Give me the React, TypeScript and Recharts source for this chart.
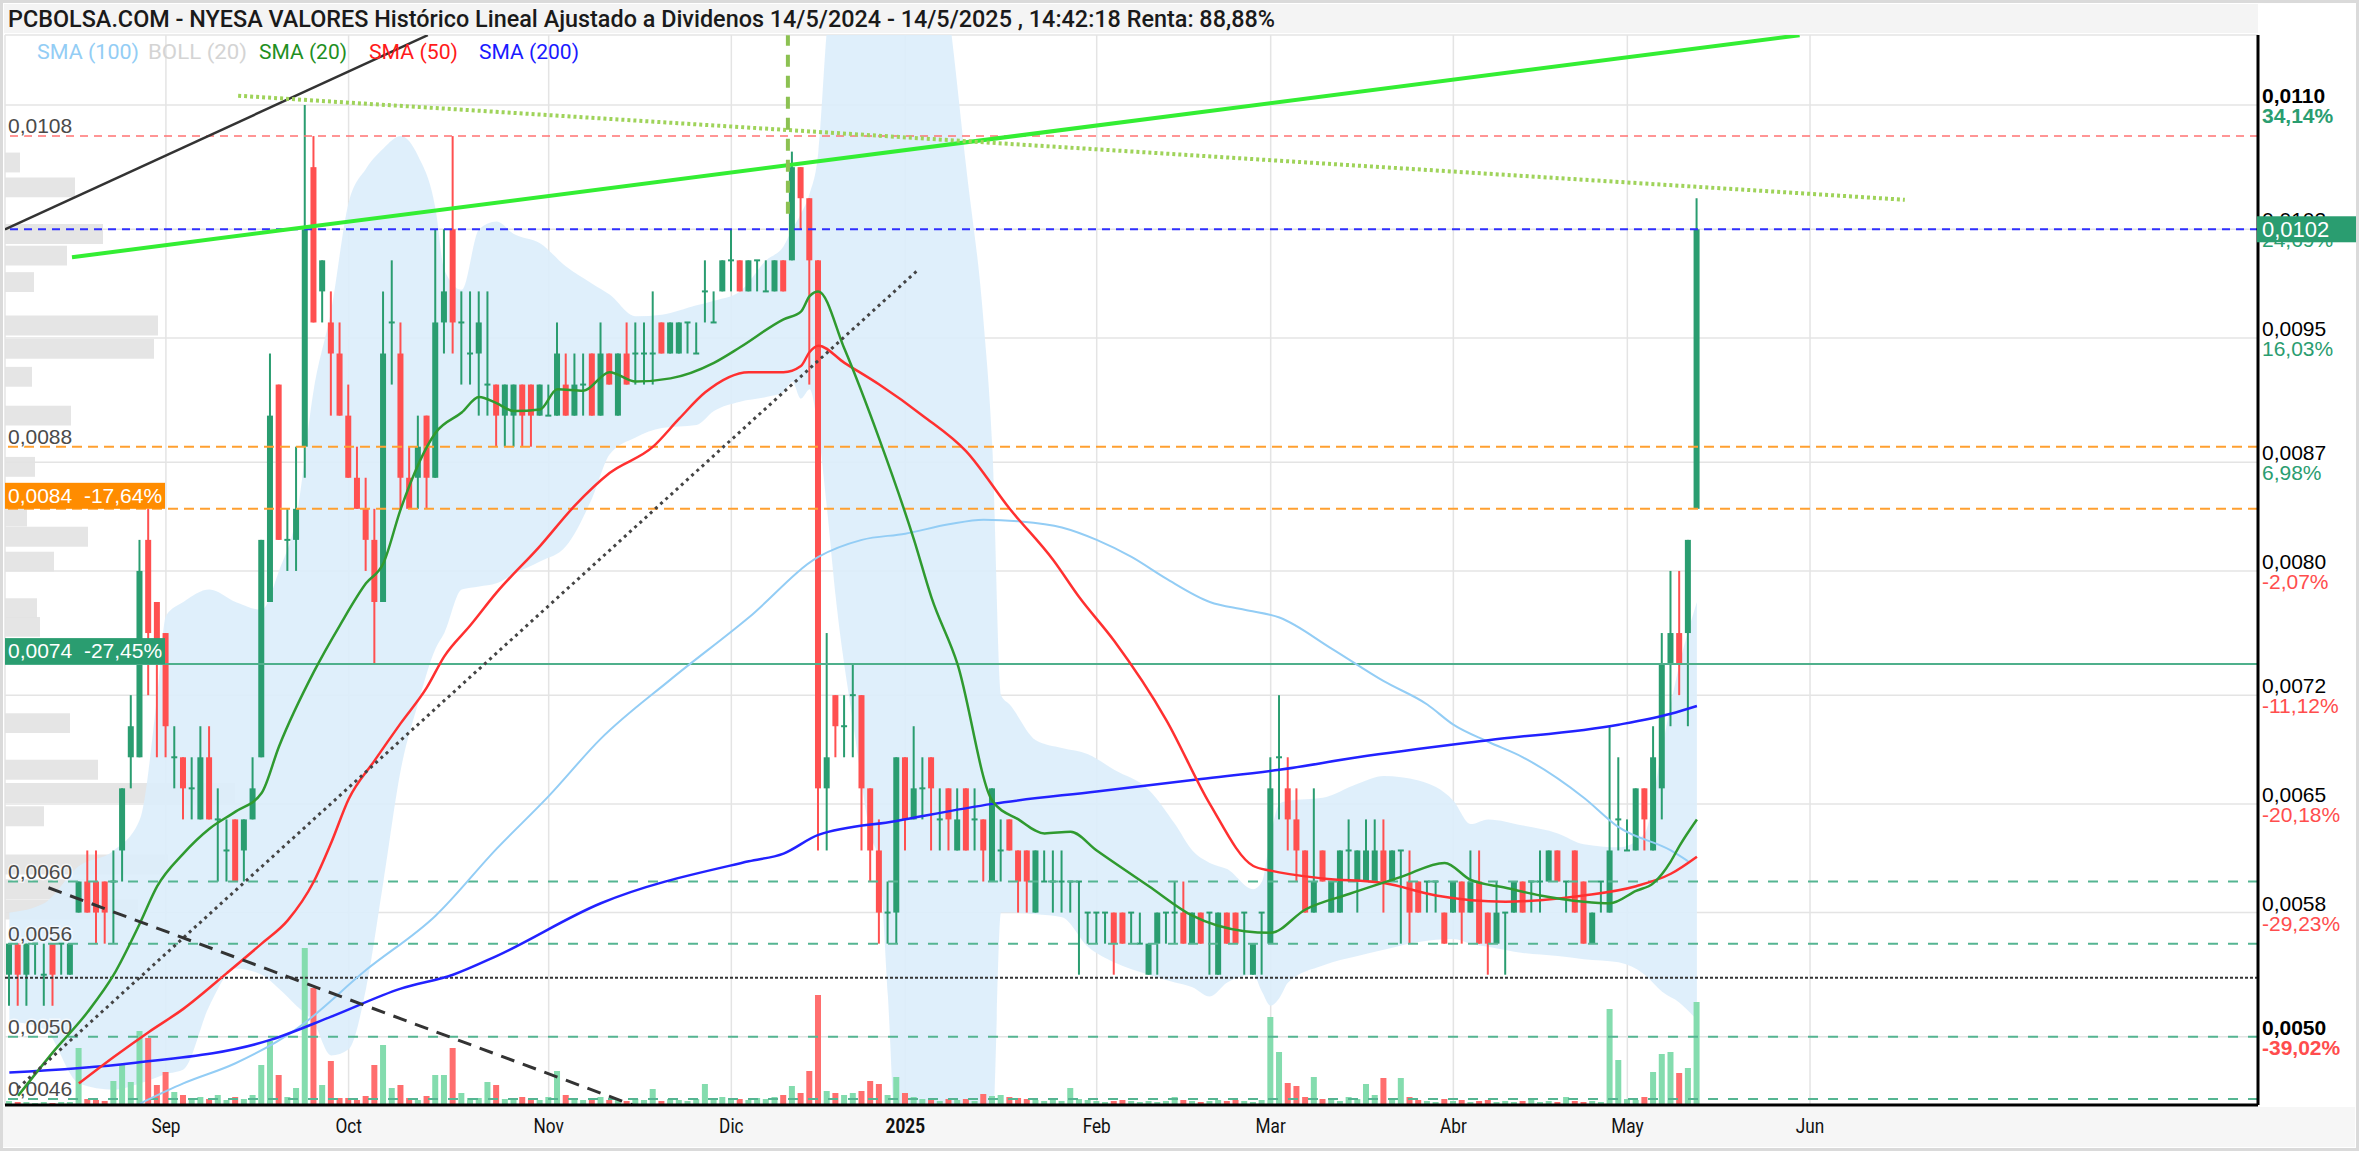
import React from 'react';
import { ComposedChart, Bar, Line, Area, XAxis, YAxis, CartesianGrid, ReferenceLine, ReferenceArea } from 'recharts';

// ---- price candles [open, high, low, close], one per trading day ----
const candles: number[][] = [
  [0.0054,0.0056,0.0052,0.0056],[0.0056,0.0056,0.0052,0.0054],[0.0054,0.0056,0.0052,0.0056],[0.0056,0.0056,0.0054,0.0056],
  [0.0054,0.0056,0.0052,0.0054],[0.0056,0.0056,0.0052,0.0054],[0.0056,0.0056,0.0054,0.0056],[0.0054,0.0056,0.0054,0.0056],
  [0.0058,0.0060,0.0058,0.0060],[0.0060,0.0062,0.0058,0.0058],[0.0060,0.0062,0.0056,0.0058],[0.0060,0.0060,0.0056,0.0058],
  [0.0060,0.0062,0.0056,0.0060],[0.0062,0.0066,0.0060,0.0066],[0.0068,0.0072,0.0066,0.0070],[0.0068,0.0082,0.0068,0.0080],
  [0.0082,0.0084,0.0072,0.0076],[0.0078,0.0078,0.0068,0.0074],[0.0076,0.0076,0.0068,0.0070],[0.0068,0.0070,0.0066,0.0068],
  [0.0068,0.0068,0.0064,0.0066],[0.0066,0.0068,0.0064,0.0066],[0.0064,0.0070,0.0064,0.0068],[0.0068,0.0070,0.0064,0.0064],
  [0.0064,0.0066,0.0060,0.0064],[0.0062,0.0064,0.0060,0.0062],[0.0064,0.0064,0.0060,0.0060],[0.0062,0.0064,0.0060,0.0064],
  [0.0064,0.0068,0.0064,0.0066],[0.0068,0.0082,0.0068,0.0082],[0.0078,0.0094,0.0078,0.0090],[0.0092,0.0092,0.0082,0.0082],
  [0.0082,0.0084,0.0080,0.0082],[0.0082,0.0088,0.0080,0.0084],[0.0088,0.0110,0.0086,0.0102],[0.0106,0.0108,0.0096,0.0096],
  [0.0098,0.0100,0.0096,0.0100],[0.0096,0.0098,0.0090,0.0094],[0.0094,0.0096,0.0090,0.0090],[0.0090,0.0092,0.0086,0.0086],
  [0.0086,0.0088,0.0084,0.0084],[0.0084,0.0086,0.0080,0.0082],[0.0082,0.0084,0.0074,0.0078],[0.0078,0.0098,0.0078,0.0094],
  [0.0096,0.0100,0.0092,0.0096],[0.0094,0.0096,0.0084,0.0086],[0.0086,0.0088,0.0084,0.0084],[0.0086,0.0090,0.0084,0.0088],
  [0.0090,0.0090,0.0084,0.0086],[0.0086,0.0102,0.0086,0.0096],[0.0096,0.0102,0.0094,0.0098],[0.0102,0.0108,0.0094,0.0096],
  [0.0096,0.0098,0.0092,0.0096],[0.0094,0.0098,0.0092,0.0094],[0.0094,0.0098,0.0090,0.0096],[0.0092,0.0098,0.0090,0.0092],
  [0.0092,0.0092,0.0088,0.0090],[0.0090,0.0092,0.0088,0.0092],[0.0090,0.0092,0.0088,0.0092],[0.0092,0.0092,0.0088,0.0090],
  [0.0092,0.0092,0.0088,0.0090],[0.0090,0.0092,0.0090,0.0092],[0.0090,0.0092,0.0090,0.0090],[0.0090,0.0096,0.0090,0.0094],
  [0.0092,0.0094,0.0090,0.0090],[0.0090,0.0094,0.0090,0.0092],[0.0092,0.0094,0.0090,0.0092],[0.0094,0.0094,0.0090,0.0090],
  [0.0090,0.0096,0.0090,0.0094],[0.0094,0.0094,0.0092,0.0092],[0.0090,0.0094,0.0090,0.0094],[0.0094,0.0096,0.0092,0.0092],
  [0.0094,0.0096,0.0092,0.0094],[0.0094,0.0096,0.0092,0.0094],[0.0094,0.0098,0.0092,0.0094],[0.0096,0.0096,0.0094,0.0094],
  [0.0094,0.0096,0.0094,0.0096],[0.0094,0.0096,0.0094,0.0096],[0.0096,0.0096,0.0094,0.0096],[0.0094,0.0096,0.0094,0.0094],
  [0.0098,0.0100,0.0096,0.0098],[0.0096,0.0098,0.0096,0.0096],[0.0098,0.0100,0.0098,0.0100],[0.0100,0.0102,0.0098,0.0100],
  [0.0100,0.0100,0.0098,0.0098],[0.0098,0.0100,0.0098,0.0100],[0.0100,0.0100,0.0098,0.0100],[0.0098,0.0100,0.0098,0.0098],
  [0.0098,0.0100,0.0098,0.0100],[0.0100,0.0100,0.0098,0.0098],[0.0100,0.0107,0.0100,0.0106],[0.0106,0.0106,0.0102,0.0104],
  [0.0104,0.0104,0.0092,0.0100],[0.0100,0.0100,0.0062,0.0066],
  [0.0066,0.0076,0.0062,0.0068],[0.0072,0.0072,0.0068,0.0070],[0.0070,0.0072,0.0068,0.0070],[0.0072,0.0074,0.0068,0.0072],
  [0.0072,0.0072,0.0062,0.0066],[0.0066,0.0066,0.0060,0.0062],[0.0062,0.0064,0.0056,0.0058],[0.0058,0.0060,0.0056,0.0058],
  [0.0058,0.0068,0.0056,0.0068],[0.0068,0.0068,0.0062,0.0064],[0.0064,0.0070,0.0064,0.0066],[0.0066,0.0068,0.0064,0.0066],
  [0.0068,0.0068,0.0062,0.0066],[0.0064,0.0066,0.0062,0.0064],[0.0066,0.0066,0.0062,0.0064],[0.0062,0.0066,0.0062,0.0064],
  [0.0066,0.0066,0.0062,0.0062],[0.0064,0.0066,0.0062,0.0064],[0.0064,0.0064,0.0060,0.0062],[0.0060,0.0066,0.0060,0.0066],
  [0.0062,0.0064,0.0060,0.0062],[0.0064,0.0064,0.0062,0.0062],[0.0062,0.0062,0.0058,0.0060],[0.0062,0.0062,0.0058,0.0060],
  [0.0058,0.0062,0.0058,0.0062],[0.0060,0.0062,0.0060,0.0060],[0.0060,0.0062,0.0058,0.0060],[0.0060,0.0062,0.0058,0.0060],
  [0.0060,0.0060,0.0058,0.0060],[0.0060,0.0060,0.0054,0.0060],[0.0058,0.0058,0.0056,0.0058],[0.0058,0.0058,0.0056,0.0058],
  [0.0058,0.0058,0.0056,0.0058],[0.0058,0.0058,0.0054,0.0056],[0.0058,0.0058,0.0056,0.0056],[0.0058,0.0058,0.0056,0.0058],
  [0.0056,0.0058,0.0056,0.0056],[0.0054,0.0056,0.0054,0.0056],[0.0056,0.0058,0.0054,0.0058],[0.0058,0.0058,0.0056,0.0058],
  [0.0058,0.0060,0.0056,0.0058],[0.0058,0.0060,0.0056,0.0056],[0.0056,0.0058,0.0056,0.0058],[0.0058,0.0058,0.0056,0.0056],
  [0.0058,0.0058,0.0054,0.0058],[0.0054,0.0058,0.0054,0.0058],[0.0058,0.0058,0.0056,0.0056],[0.0058,0.0058,0.0056,0.0056],
  [0.0058,0.0058,0.0054,0.0058],[0.0054,0.0056,0.0054,0.0056],[0.0058,0.0058,0.0054,0.0058],[0.0056,0.0068,0.0056,0.0066],
  [0.0068,0.0072,0.0064,0.0068],[0.0066,0.0068,0.0062,0.0064],[0.0064,0.0066,0.0060,0.0062],[0.0062,0.0062,0.0058,0.0058],
  [0.0058,0.0066,0.0058,0.0060],[0.0062,0.0062,0.0060,0.0060],[0.0058,0.0060,0.0058,0.0060],[0.0058,0.0062,0.0058,0.0062],
  [0.0062,0.0064,0.0060,0.0062],[0.0060,0.0062,0.0058,0.0062],[0.0060,0.0064,0.0060,0.0062],[0.0060,0.0064,0.0060,0.0062],
  [0.0062,0.0064,0.0058,0.0060],[0.0060,0.0062,0.0060,0.0062],[0.0062,0.0062,0.0056,0.0062],[0.0060,0.0062,0.0056,0.0058],
  [0.0060,0.0060,0.0058,0.0058],[0.0060,0.0060,0.0058,0.0060],[0.0060,0.0060,0.0058,0.0060],[0.0058,0.0058,0.0056,0.0056],
  [0.0058,0.0060,0.0058,0.0060],[0.0060,0.0060,0.0056,0.0058],[0.0058,0.0062,0.0058,0.0060],[0.0060,0.0062,0.0056,0.0056],
  [0.0058,0.0058,0.0054,0.0056],[0.0056,0.0060,0.0056,0.0058],[0.0058,0.0058,0.0054,0.0058],[0.0058,0.0060,0.0058,0.0060],
  [0.0060,0.0060,0.0058,0.0058],[0.0060,0.0060,0.0058,0.0060],[0.0060,0.0062,0.0058,0.0060],[0.0060,0.0062,0.0060,0.0062],
  [0.0062,0.0062,0.0060,0.0060],[0.0060,0.0060,0.0058,0.0060],[0.0062,0.0062,0.0058,0.0058],[0.0060,0.0060,0.0056,0.0056],
  [0.0056,0.0058,0.0056,0.0058],[0.0060,0.0060,0.0058,0.0060],[0.0058,0.0070,0.0058,0.0062],[0.0064,0.0068,0.0062,0.0064],
  [0.0062,0.0064,0.0062,0.0062],[0.0062,0.0066,0.0062,0.0066],[0.0066,0.0066,0.0062,0.0064],[0.0062,0.0070,0.0062,0.0068],
  [0.0066,0.0076,0.0064,0.0074],[0.0074,0.0080,0.0070,0.0076],[0.0076,0.0080,0.0072,0.0074],[0.0076,0.0082,0.0070,0.0082],
  [0.0084,0.0104,0.0084,0.0102],
];

// ---- traded volume per day (relative units) ----
const volumes: number[] = [
  4,3,3,2,3,2,3,3, 57,6,5,4,24,40,23,74, 67,20,33,13,10,6,8,6, 10,5,8,6,10,40,64,30,
  8,17,157,117,20,44,7,7, 5,9,40,60,17,20,7,5, 9,30,30,57,12,7,7,23, 20,6,5,8,6,5,8,34,
  10,6,5,6,8,5,6,4, 6,5,16,4,6,5,4,6, 21,6,8,5,6,5,7,6, 8,10,19,12,34,110,14,12,
  10,12,14,24,21,10,28,12, 8,6,5,4,6,5,6,4, 11,9,10,8,7,6,5,4, 5,4,17,6,5,4,3,4,
  5,4,3,4,3,4,8,5, 4,3,4,5,4,5,4,3, 5,88,53,22,19,8,28,6, 5,4,8,6,21,10,27,6,
  27,8,5,4,3,6,4,5, 3,4,5,3,4,3,4,5, 3,4,3,8,4,3,4,3, 96,45,6,5,8,33,51,53,
  32,37,103,
];

// ---- moving averages: [day index, value] ----
const sma20: number[][] = [
  [1,0.00462],[5,0.00490],[9,0.00516],[12,0.00540],[15,0.00573],[17,0.00597],[20,0.00618],[23,0.00634],[26,0.00645],
  [29,0.00657],[31,0.00687],[35,0.00735],[38,0.00765],[41,0.00792],[43,0.00805],[45,0.0084],[49,0.00889],[52,0.00902],
  [54,0.00912],[56,0.00908],[58,0.00903],[61,0.00904],[63,0.00917],[66,0.00916],[69,0.00928],[72,0.00922],[76,0.00924],
  [81,0.00934],[84,0.00944],[89,0.00962],[91,0.00967],[92,0.00977],[93,0.0098],[96,0.00943],[100,0.00885],[104,0.0082],
  [106,0.00783],[109,0.0074],[113,0.00652],[116,0.0064],[119,0.00631],[122,0.00632],[125,0.0062],[131,0.00597],
  [136,0.00578],[142,0.00568],[145,0.00567],[149,0.00582],[154,0.00592],[160,0.00603],[165,0.00612],[168,0.00601],
  [172,0.00596],[176,0.00591],[181,0.00587],[184,0.00586],[187,0.00594],[189,0.00599],[191,0.00613],[192,0.00623],[194,0.0064],
];
const sma50: number[][] = [
  [8,0.0047],[12,0.00487],[16,0.00503],[20,0.00518],[25,0.00541],[29,0.0056],[32,0.00575],[35,0.006],[37,0.00625],
  [39,0.00653],[42,0.00678],[45,0.00702],[48,0.00725],[50,0.00745],[53,0.00765],[56,0.00786],[61,0.00816],[65,0.00842],
  [69,0.00863],[74,0.0088],[77,0.00898],[80,0.00915],[85,0.00928],[89,0.00928],[91,0.00932],[92,0.00941],[93,0.00945],
  [96,0.00934],[100,0.0092],[105,0.0090],[110,0.00877],[115,0.0084],[120,0.00807],[123,0.00783],[127,0.00755],
  [133,0.00704],[138,0.0065],[143,0.0061],[145,0.00607],[151,0.00602],[158,0.00599],[164,0.00591],[172,0.00587],
  [176,0.00588],[181,0.00591],[187,0.00597],[191,0.00605],[194,0.00616],
];
const sma100: number[][] = [
  [15,0.00457],[20,0.0047],[26,0.00483],[33,0.00505],[41,0.00543],[49,0.00578],[56,0.00621],[62,0.00655],[68,0.00692],
  [76,0.0073],[85,0.0077],[93,0.00809],[98,0.0082],[103,0.00824],[108,0.0083],[112,0.00833],[116,0.00832],[121,0.00828],
  [125,0.0082],[129,0.00809],[133,0.00795],[138,0.0078],[142,0.00775],[146,0.0077],[152,0.0075],[158,0.00729],
  [163,0.00714],[166,0.00701],[170,0.0069],[174,0.0068],[181,0.00654],[185,0.00635],[191,0.0062],[193,0.00613],
];
const sma200: number[][] = [
  [0,0.00477],[14,0.00483],[30,0.00498],[37,0.00513],[45,0.00531],[51,0.0054],[56,0.00552],[68,0.00586],[85,0.00613],
  [89,0.00618],[93,0.0063],[102,0.00639],[113,0.0065],[125,0.00658],[137,0.00666],[146,0.00672],[155,0.0068],
  [170,0.00691],[185,0.00701],[191,0.00708],[194,0.00713],
];
// Bollinger (20): [day index, lower, upper]
const bollinger: number[][] = [
  [0,0.0051,0.0058],[4,0.00505,0.00586],[8,0.0047,0.0061],[12,0.00466,0.0062],[15,0.0047,0.0064],[17,0.00474,0.0072],
  [18,0.00476,0.00771],[20,0.00479,0.0078],[23,0.0052,0.00788],[26,0.00544,0.0078],[29,0.0054,0.00775],[31,0.00531,0.0080],
  [33,0.0052,0.00835],[35,0.00509,0.00917],[37,0.00488,0.00968],[39,0.00492,0.01037],[41,0.00531,0.01059],[43,0.0060,0.01072],
  [45,0.00672,0.0108],[47,0.00715,0.01067],[49,0.0075,0.01033],[50,0.0076,0.00994],[52,0.00788,0.00981],[54,0.0079,0.0102],
  [56,0.00792,0.01025],[58,0.00798,0.01017],[61,0.00806,0.01011],[64,0.00816,0.00996],[67,0.00847,0.00985],[69,0.00875,0.00978],
  [72,0.00886,0.00964],[75,0.00892,0.00965],[79,0.00894,0.00971],[81,0.00903,0.00974],[84,0.00909,0.0098],[87,0.00912,0.0100],
  [89,0.00915,0.01009],[90,0.00922,0.0102],[91,0.00911,0.0103],[92,0.00917,0.01043],[93,0.0089,0.0107],[94,0.0084,0.0115],
  [95,0.00783,0.0120],[97,0.00702,0.0124],[99,0.0063,0.0126],[100,0.00612,0.0127],[101,0.00526,0.0127],[102,0.0043,0.0127],
  [106,0.0043,0.0124],[108,0.0043,0.0116],[110,0.0043,0.0106],[112,0.0044,0.0096],[113,0.0044,0.0088],[114,0.0058,0.0072],
  [115,0.0058,0.00714],[118,0.00579,0.00691],[121,0.00577,0.00686],[124,0.00558,0.00682],[127,0.00548,0.00672],
  [131,0.0054,0.00659],[134,0.00535,0.00637],[136,0.00532,0.0062],[138,0.00526,0.00612],[140,0.00535,0.00608],
  [143,0.0054,0.00595],[144,0.00529,0.0060],[145,0.0052,0.0063],[146,0.00525,0.0065],[147,0.00535,0.00652],
  [151,0.00546,0.00654],[155,0.00552,0.00663],[158,0.00556,0.00668],[162,0.00561,0.00665],[166,0.00563,0.00652],
  [168,0.0056,0.00637],[170,0.00558,0.0064],[174,0.00554,0.00636],[178,0.00552,0.00631],[181,0.0055,0.00624],
  [185,0.00548,0.00622],[188,0.0054,0.00631],[190,0.00529,0.00686],[192,0.00522,0.0074],[194,0.00511,0.0078],
];

// ---- volume-by-price profile (left edge) ----
const profilePrice: number[] = [0.01063,0.01047,0.01017,0.01003,0.00986,0.00958,0.00943,0.00925,0.0090,0.00867,0.00835,
  0.00822,0.00806,0.00776,0.00764,0.00702,0.00672,0.00657,0.00642,0.00611,0.00595,0.00582];
const profileVol: number[] = [15,70,98,62,29,153,149,27,66,30,22,83,49,32,35,65,93,230,39,163,80,133];

// ---- axes ----
const TOTAL_SLOTS = 259;
const monthTicks: number[] = [18,39,62,83,103,125,145,166,186,207];
const monthLabels: string[] = ['Sep','Oct','Nov','Dic','2025','Feb','Mar','Abr','May','Jun'];
const priceTicks: number[] = [0.0110,0.0102,0.0095,0.0087,0.0080,0.0072,0.0065,0.0058,0.0050];
const priceTickPct: string[] = ['34,14%','24,69%','16,03%','6,98%','-2,07%','-11,12%','-20,18%','-29,23%','-39,02%'];
const Y_MIN = 0.004561, Y_MAX = 0.011451;

// ---- levels ----
const LVL_RED = 0.0108, LVL_BLUE = 0.0102, LVL_OR1 = 0.0088, LVL_OR2 = 0.0084, LVL_GREEN = 0.0074;
const LVL_G60 = 0.0060, LVL_G56 = 0.0056, LVL_BLACK = 0.00538, LVL_G50 = 0.0050, LVL_G46 = 0.0046;
const lastPrice = 0.0102;

// ---- trend lines: [day index, price] pairs ----
const trendBlack = [[-0.5, 0.0102], [48.1, 0.01145]];
const trendGreen = [[7.2, 0.01002], [205.8, 0.01145]];
const trendLightDots = [[26.3, 0.01106], [217.9, 0.01039]];
const trendDotted = [[1, 0.00467], [104.5, 0.00994]];
const trendDashed = [[4.5, 0.00596], [71.6, 0.004562]];
const vertDash = [[89.5, 0.0103], [89.5, 0.01145]];

const GREEN = '#2a9d70', RED = '#ff5050', VGREEN = '#84dcae', VRED = '#ff6e6e';
const PX_PER_SLOT = 2253 / TOTAL_SLOTS;

const fmt = (v: number) => v.toFixed(4).replace('.', ',');

function buildRows() {
  const toMap = (arr: number[][]) => new Map(arr.map((p) => [p[0], p[1]]));
  const m20 = toMap(sma20), m50 = toMap(sma50), m100 = toMap(sma100), m200 = toMap(sma200);
  const mb = new Map(bollinger.map((p) => [p[0], [p[1], p[2]]]));
  const rows: any[] = [];
  for (let i = 0; i < TOTAL_SLOTS; i++) {
    const r: any = { i, hl: null, v: null };
    const c = candles[i];
    if (c) {
      r.o = c[0]; r.h = c[1]; r.l = c[2]; r.c = c[3];
      r.hl = [c[2], c[1]];
      r.v = volumes[i];
      r.up = c[3] >= c[0];
    }
    r.s20 = m20.has(i) ? m20.get(i) : null;
    r.s50 = m50.has(i) ? m50.get(i) : null;
    r.s100 = m100.has(i) ? m100.get(i) : null;
    r.s200 = m200.has(i) ? m200.get(i) : null;
    r.band = mb.has(i) ? mb.get(i) : null;
    rows.push(r);
  }
  return rows;
}
const rows = buildRows();

const CandleShape = (props: any) => {
  const { x, width, payload } = props;
  let { y, height } = props;
  if (!payload || payload.o == null || x == null) return <g />;
  if (height < 0) { y += height; height = -height; }
  const { o, h, l, c } = payload;
  const color = c >= o ? GREEN : RED;
  const span = h - l;
  const toY = (v: number) => (span > 0 ? y + ((h - v) / span) * height : y);
  const cx = x + width / 2;
  const top = toY(Math.max(o, c));
  const bot = toY(Math.min(o, c));
  return (
    <g>
      <line x1={cx} x2={cx} y1={y} y2={y + height} stroke={color} strokeWidth={2} />
      {bot - top < 1.5 ? (
        <line x1={x} x2={x + width} y1={top} y2={top} stroke={color} strokeWidth={2} />
      ) : (
        <rect x={x} y={top} width={width} height={bot - top} fill={color} />
      )}
    </g>
  );
};

const VolShape = (props: any) => {
  const { x, y, width, height, payload } = props;
  if (!payload || !payload.v || x == null) return <g />;
  return <rect x={x} y={y} width={width} height={height} fill={payload.up ? VGREEN : VRED} />;
};

const MonthTick = (props: any) => {
  const { x, y, payload } = props;
  const k = monthTicks.indexOf(payload.value);
  const label = k >= 0 ? monthLabels[k] : '';
  const bold = label === '2025';
  return (
    <text x={0} y={0} transform={`translate(${x} ${y + 20}) scale(0.86 1)`} textAnchor="middle"
      fontFamily="Roboto, 'Liberation Sans', sans-serif" fontSize={20} fontWeight={bold ? 700 : 400} fill="#111">
      {label}
    </text>
  );
};

const PriceTick = (props: any) => {
  const { x, y, payload } = props;
  const k = priceTicks.indexOf(payload.value);
  if (k < 0) return <g />;
  const bold = k === 0 || k === priceTicks.length - 1;
  const pct = priceTickPct[k];
  const neg = pct.startsWith('-');
  const tx = x - 4;
  const isLast = payload.value === lastPrice;
  return (
    <g fontFamily="'Liberation Sans', Arial, sans-serif" fontSize={21} fontWeight={bold ? 700 : 400}>
      <text x={tx} y={y - 2} fill="#000">{fmt(payload.value)}</text>
      <text x={tx} y={y + 18} fill={neg ? '#ff4d4d' : '#2a9d70'}>{pct}</text>
      {isLast && (
        <g>
          <rect x={x - 9} y={y - 13} width={99} height={26} fill={GREEN} />
          <text x={tx} y={y + 8} fill="#fff" fontSize={22} fontWeight={400}>{fmt(lastPrice)}</text>
        </g>
      )}
    </g>
  );
};

const LeftTag = (props: any) => {
  const { viewBox, text, bg } = props;
  if (!viewBox) return null;
  const x = viewBox.x, y = viewBox.y;
  if (bg) {
    return (
      <g>
        <rect x={x} y={y - 26} width={160} height={26} fill={bg} />
        <text x={x + 3} y={y - 6} fill="#fff" fontSize={21} fontFamily="'Liberation Sans', Arial, sans-serif" style={{ whiteSpace: 'pre' }}>{text}</text>
      </g>
    );
  }
  return (
    <text x={x + 3} y={y - 3} fill="#4a4a4a" fontSize={21} fontFamily="'Liberation Sans', Arial, sans-serif"
      stroke="#fff" strokeWidth={3} paintOrder="stroke" strokeOpacity={0.6}>{text}</text>
  );
};

const seg = (s: number[][]) => [{ x: s[0][0], y: s[0][1] }, { x: s[1][0], y: s[1][1] }];

export default function App() {
  const ax = { xAxisId: 'main', yAxisId: 'price' } as const;
  return (
    <div style={{ position: 'absolute', left: 0, top: 0, width: 2360, height: 1152, background: '#fff', overflow: 'hidden' }}>
      <svg width={2360} height={1152} style={{ position: 'absolute', left: 0, top: 0 }}>
        <rect x={3} y={1107} width={2352} height={40} fill="#f6f6f6" />
      </svg>
      <div style={{ position: 'absolute', left: 0, top: 0 }}>
        <ComposedChart width={2360} height={1152} data={rows} margin={{ top: 35, right: 0, bottom: 0, left: 5 }}>
          <XAxis xAxisId="main" dataKey="i" type="number" domain={[-0.5, TOTAL_SLOTS - 0.5]} allowDataOverflow
            ticks={monthTicks} interval={0} tick={<MonthTick />} tickLine={false}
            axisLine={{ stroke: '#000', strokeWidth: 3 }} height={47} />
          <XAxis xAxisId="vx" dataKey="i" type="number" domain={[-0.5, TOTAL_SLOTS - 0.5]} allowDataOverflow hide />
          <YAxis yAxisId="price" orientation="right" type="number" domain={[Y_MIN, Y_MAX]} allowDataOverflow
            ticks={priceTicks} interval={0} tick={<PriceTick />} tickLine={false}
            axisLine={{ stroke: '#000', strokeWidth: 3 }} width={102} />
          <YAxis yAxisId="vol" type="number" domain={[0, 1070]} allowDataOverflow hide />
          <CartesianGrid xAxisId="main" yAxisId="price" stroke="#e4e4e4" strokeWidth={1.5} />

          {profilePrice.map((p, k) => (
            <ReferenceArea key={'pf' + k} {...ax} x1={-0.5} x2={-0.5 + profileVol[k] / PX_PER_SLOT}
              y1={p - 0.000064} y2={p + 0.000064} fill="#e2e2e2" fillOpacity={0.9} stroke="none" ifOverflow="hidden" />
          ))}

          <Area {...ax} dataKey="band" type="monotone" stroke="none" fill="#dcedfb" fillOpacity={0.9}
            connectNulls dot={false} activeDot={false} isAnimationActive={false} />

          <Bar xAxisId="vx" yAxisId="vol" dataKey="v" barSize={6} shape={(p: any) => <VolShape {...p} />} isAnimationActive={false} />

          <ReferenceLine {...ax} y={LVL_RED} stroke="#ff7373" strokeDasharray="8 6" strokeWidth={1.5}
            label={<LeftTag text="0,0108" />} />
          <ReferenceLine {...ax} y={LVL_BLUE} stroke="#2f2fff" strokeDasharray="8 6" strokeWidth={2} />
          <ReferenceLine {...ax} y={LVL_OR1} stroke="#ffa030" strokeDasharray="10 6" strokeWidth={2}
            label={<LeftTag text="0,0088" />} />
          <ReferenceLine {...ax} y={LVL_OR2} stroke="#ffa030" strokeDasharray="10 6" strokeWidth={2}
            label={<LeftTag text={'0,0084  -17,64%'} bg="#ff8c00" />} />
          <ReferenceLine {...ax} y={LVL_GREEN} stroke="#4fb08c" strokeWidth={2}
            label={<LeftTag text={'0,0074  -27,45%'} bg={GREEN} />} />
          <ReferenceLine {...ax} y={LVL_G60} stroke="#55b592" strokeDasharray="10 10" strokeWidth={2}
            label={<LeftTag text="0,0060" />} />
          <ReferenceLine {...ax} y={LVL_G56} stroke="#55b592" strokeDasharray="10 10" strokeWidth={2}
            label={<LeftTag text="0,0056" />} />
          <ReferenceLine {...ax} y={LVL_BLACK} stroke="#333" strokeDasharray="3 2" strokeWidth={2} />
          <ReferenceLine {...ax} y={LVL_G50} stroke="#55b592" strokeDasharray="10 10" strokeWidth={2}
            label={<LeftTag text="0,0050" />} />
          <ReferenceLine {...ax} y={LVL_G46} stroke="#55b592" strokeDasharray="10 10" strokeWidth={2}
            label={<LeftTag text="0,0046" />} />

          <Bar {...ax} dataKey="hl" barSize={6} shape={(p: any) => <CandleShape {...p} />} isAnimationActive={false} />

          <Line {...ax} dataKey="s100" type="monotone" stroke="#93cdf5" strokeWidth={2} dot={false} activeDot={false} connectNulls isAnimationActive={false} />
          <Line {...ax} dataKey="s200" type="monotone" stroke="#2222ff" strokeWidth={2.5} dot={false} activeDot={false} connectNulls isAnimationActive={false} />
          <Line {...ax} dataKey="s50" type="monotone" stroke="#ff3030" strokeWidth={2.5} dot={false} activeDot={false} connectNulls isAnimationActive={false} />
          <Line {...ax} dataKey="s20" type="monotone" stroke="#2f9a2f" strokeWidth={2.5} dot={false} activeDot={false} connectNulls isAnimationActive={false} />

          <ReferenceLine {...ax} segment={seg(trendBlack)} stroke="#333" strokeWidth={2.5} ifOverflow="hidden" />
          <ReferenceLine {...ax} segment={seg(trendGreen)} stroke="#33ee33" strokeWidth={4} ifOverflow="hidden" />
          <ReferenceLine {...ax} segment={seg(trendLightDots)} stroke="#9fd35a" strokeWidth={4} strokeDasharray="3 3" ifOverflow="hidden" />
          <ReferenceLine {...ax} segment={seg(trendDotted)} stroke="#444" strokeWidth={3} strokeDasharray="3 4" ifOverflow="hidden" />
          <ReferenceLine {...ax} segment={seg(trendDashed)} stroke="#333" strokeWidth={3} strokeDasharray="14 9" ifOverflow="hidden" />
          <ReferenceLine {...ax} segment={seg(vertDash)} stroke="#8cc152" strokeWidth={4} strokeDasharray="12 9" ifOverflow="hidden" />
        </ComposedChart>
      </div>
      <svg width={2360} height={1152} style={{ position: 'absolute', left: 0, top: 0, pointerEvents: 'none' }}>
        <rect x={4} y={4} width={2254} height={29} fill="#f4f4f4" />
        <text x={8} y={27} fontFamily="Roboto, 'Liberation Sans', sans-serif" fontSize={23} fontWeight={500} fill="#1a1a1a"
          textLength={1267} lengthAdjust="spacingAndGlyphs">
          PCBOLSA.COM - NYESA VALORES Histórico Lineal Ajustado a Dividenos 14/5/2024 - 14/5/2025 , 14:42:18 Renta: 88,88%
        </text>
        <g fontFamily="Roboto, 'Liberation Sans', sans-serif" fontSize={20}>
          <text x={37} y={59} fill="#93cdf5" textLength={102} lengthAdjust="spacingAndGlyphs">SMA (100)</text>
          <text x={148} y={59} fill="#d4d4d4" textLength={99} lengthAdjust="spacingAndGlyphs">BOLL (20)</text>
          <text x={259} y={59} fill="#1f8f1f" textLength={88} lengthAdjust="spacingAndGlyphs">SMA (20)</text>
          <text x={369} y={59} fill="#ff1a1a" textLength={89} lengthAdjust="spacingAndGlyphs">SMA (50)</text>
          <text x={479} y={59} fill="#1a1aff" textLength={100} lengthAdjust="spacingAndGlyphs">SMA (200)</text>
        </g>
        <rect x={1.5} y={1.5} width={2356} height={1148} fill="none" stroke="#dadada" strokeWidth={3} />
      </svg>
    </div>
  );
}
